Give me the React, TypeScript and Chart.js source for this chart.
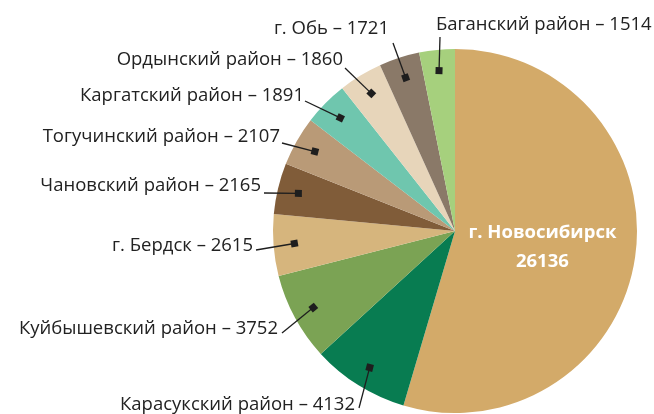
import React, { useEffect, useRef } from "react";
import { Chart, registerables } from "chart.js";

Chart.register(...registerables);

const names = [
  "г. Новосибирск",
  "Карасукский район",
  "Куйбышевский район",
  "г. Бердск",
  "Чановский район",
  "Тогучинский район",
  "Каргатский район",
  "Ордынский район",
  "г. Обь",
  "Баганский район",
];
const values = [26136, 4132, 3752, 2615, 2165, 2107, 1891, 1860, 1721, 1514];
const colors = [
  "#D3AA69",
  "#087C51",
  "#7BA354",
  "#D6B57D",
  "#805C39",
  "#B99A77",
  "#6FC6AE",
  "#E7D5BA",
  "#8A7968",
  "#A6D07D",
];

// label layout: [text x, text y, align, line end x, line end y]
const labelLayout: [number, number, CanvasTextAlign, number, number][] = [
  [0, 0, "center", 0, 0],
  [355, 405, "right", 359, 408],
  [278, 329, "right", 282, 333],
  [253, 246, "right", 256, 250],
  [261, 186, "right", 264, 193],
  [280, 137, "right", 282, 143],
  [304, 96, "right", 305, 101],
  [343, 60, "right", 345, 68],
  [389, 29, "right", 393, 43],
  [436, 25, "left", 440, 37],
];

const FONT = "'Open Sans'";

const labelPlugin = {
  id: "pieLabels",
  afterDatasetsDraw(chart: any) {
    const ctx = chart.ctx as CanvasRenderingContext2D;
    const meta = chart.getDatasetMeta(0);
    ctx.save();
    meta.data.forEach((arc: any, i: number) => {
      const { x, y, startAngle, endAngle, outerRadius } = arc.getProps(
        ["x", "y", "startAngle", "endAngle", "outerRadius"],
        true
      );
      const mid = (startAngle + endAngle) / 2;
      const text = `${names[i]} – ${values[i]}`;
      if (i === 0) {
        ctx.fillStyle = "#ffffff";
        ctx.font = `bold 18.5px ${FONT}`;
        ctx.textAlign = "center";
        ctx.textBaseline = "middle";
        const cx = x + outerRadius * 0.48;
        ctx.fillText(names[i], cx, y + 2);
        ctx.fillText(String(values[i]), cx, y + 31);
        return;
      }
      const sx = x + Math.cos(mid) * outerRadius * 0.885;
      const sy = y + Math.sin(mid) * outerRadius * 0.885;
      const [tx, ty, align, lx, ly] = labelLayout[i];
      ctx.strokeStyle = "#1e1e1e";
      ctx.lineWidth = 1.3;
      ctx.beginPath();
      ctx.moveTo(lx, ly);
      ctx.lineTo(sx, sy);
      ctx.stroke();
      ctx.fillStyle = "#1e1e1e";
      ctx.save();
      ctx.translate(sx, sy);
      ctx.rotate(Math.atan2(sy - ly, sx - lx));
      ctx.fillRect(-3.5, -3.5, 7, 7);
      ctx.restore();
      ctx.fillStyle = "#222222";
      ctx.font = `18.5px ${FONT}`;
      ctx.textAlign = align;
      ctx.textBaseline = "middle";
      ctx.fillText(text, tx, ty);
    });
    ctx.restore();
  },
};

export default function App() {
  const ref = useRef<HTMLCanvasElement>(null);
  useEffect(() => {
    document.body.style.margin = "0";
    const chart = new Chart(ref.current!, {
      type: "pie",
      data: {
        labels: names,
        datasets: [
          {
            data: values,
            backgroundColor: colors,
            borderWidth: 0,
          },
        ],
      },
      options: {
        responsive: false,
        animation: false,
        layout: { padding: { left: 273, right: 17, top: 49, bottom: 1 } },
        plugins: { legend: { display: false }, tooltip: { enabled: false } },
      },
      plugins: [labelPlugin],
    });
    return () => chart.destroy();
  }, []);
  return (
    <div style={{ position: "absolute", left: 0, top: 0, width: 654, height: 414 }}>
      <canvas ref={ref} width={654} height={414} />
    </div>
  );
}
